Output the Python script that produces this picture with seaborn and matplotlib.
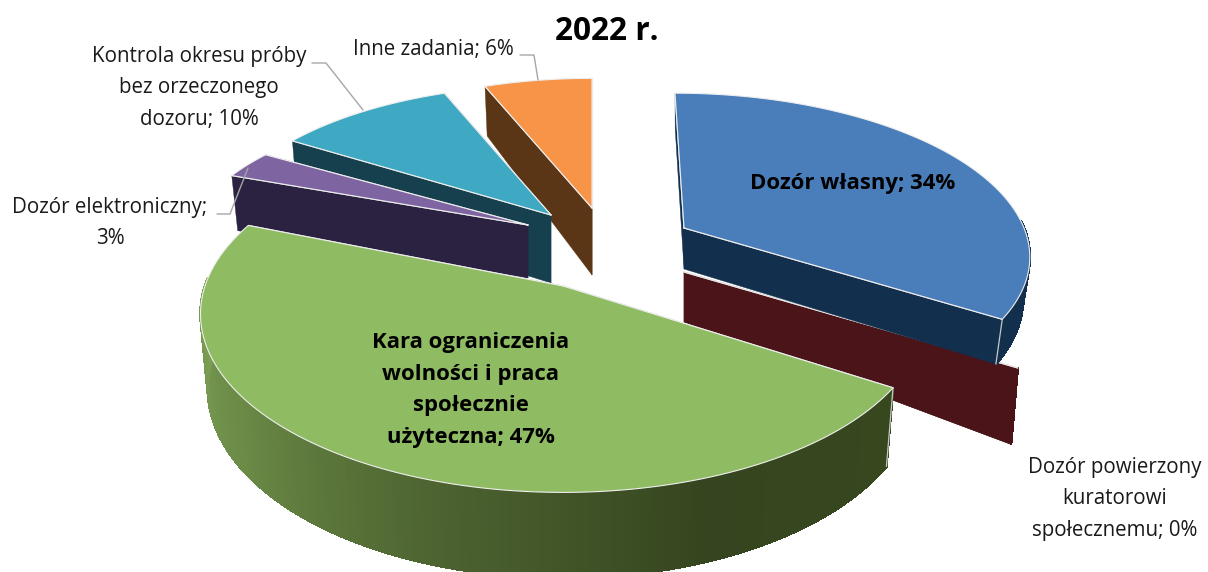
import numpy as np
import seaborn as sns
import matplotlib.pyplot as plt

title = "2022 r."
categories = ["Dozór własny", "Dozór powierzony\nkuratorowi\nspołecznemu", "Kara ograniczenia\nwolności i praca\nspołecznie\nużyteczna",
              "Dozór elektroniczny;\n", "Kontrola okresu próby\nbez orzeczonego\ndozoru", "Inne zadania"]
values = [34, 0, 47, 3, 10, 6]

# look of each slice, same order as values
top_colors = ["#4a7ebb", "#4a1418", "#8fbb63", "#7f64a2", "#3fa8c3", "#f79448"]
wall_colors = ["#12304e", "#4a1418", "#3a4a22", "#2a2240", "#16404e", "#5a3516"]
centers = [(684, 228), (684, 272), (563, 286), (528, 225), (551, 215), (592, 208)]
radii_x = [340, 362, 358, 337, 332, 333]
radii_y = [156, 164, 174, 142, 150, 150]
depths = [41, 50, 72, 53, 68, 67]
rim_gain = [1.0, 1.4, 1.0, 1.1, 1.0, 0.85]
lean = [-9, 0, 0, 0, 0, 0]

PERSP = 0.157
BOTTOM_SHRINK = 0.98

sns.set_theme(style="white")
plt.rcParams['font.family'] = ['Open Sans', 'DejaVu Sans']

fig = plt.figure(figsize=(12.08, 5.72), dpi=100)
ax = fig.add_axes([0, 0, 1, 1])
ax.set_xlim(0, 1208)
ax.set_ylim(572, 0)
ax.axis("off")


def project(i, theta, r, bottom=False):
    s = 1 / (1 + PERSP * r * np.cos(theta))
    dx = radii_x[i] * r * np.sin(theta) * s + lean[i] * r * np.cos(theta)
    y = centers[i][1] - radii_y[i] * r * np.cos(theta) * s
    if bottom:
        dx = dx * BOTTOM_SHRINK
        y = y + depths[i] * s * (1 + (rim_gain[i] - 1) * r)
    return centers[i][0] + dx, y


def draw_slice(i, start, end):
    # radial walls first
    for theta in (end, start):
        pts = [project(i, theta, 0), project(i, theta, 1), project(i, theta, 1, True), project(i, theta, 0, True)]
        ax.fill(*zip(*pts), color=wall_colors[i], lw=0.3, zorder=i_order[i])
        ax.plot(*zip(*pts[:2]), color="#e6e6e6", lw=0.9, zorder=i_order[i] + 0.2)
        # light corner where the flat wall meets the round one
        if end > start and np.cos(theta) < 0:
            ax.plot(*zip(*pts[1:3]), color="#c8c8c8", lw=0.9, zorder=i_order[i] + 0.2)

    # outer wall, only the part facing the viewer
    thetas = np.linspace(start, end, 120)
    front = np.linspace(start, end, 500)
    front = front[np.cos(front) < 0.05]
    if len(front) > 1:
        if i == 2:
            shades = sns.blend_palette(["#37481f", "#35451f", "#4d6330", "#6a8a46", "#7da055"], len(front))
        else:
            shades = [wall_colors[i]] * len(front)
        for a, b, c in zip(front[:-1], front[1:], shades):
            pts = [project(i, a, 1), project(i, b, 1), project(i, b, 1, True), project(i, a, 1, True)]
            ax.fill(*zip(*pts), color=c, lw=1.2, antialiased=False, zorder=i_order[i] + 0.1)

    # top face
    if end > start:
        rim = [project(i, t, 1) for t in thetas]
        pts = [project(i, start, 0)] + rim
        ax.fill(*zip(*pts), facecolor=top_colors[i], edgecolor="none", zorder=i_order[i] + 0.3)
        ax.plot(*zip(*pts, pts[0]), color="#eeeeee", lw=0.8, zorder=i_order[i] + 0.4)


# painter's order, back slices first
i_order = {5: 1, 4: 2, 3: 3, 1: 4, 0: 5, 2: 6}
edges = np.cumsum([0] + values) / sum(values) * 2 * np.pi
for i in range(len(values)):
    draw_slice(i, edges[i], edges[i + 1])

# leader lines
leader_color = "#a6a6a6"
ax.plot([312, 326, 363], [63, 63, 110], color=leader_color, lw=1, zorder=10)
ax.plot([520, 534, 538], [55, 55, 80], color=leader_color, lw=1, zorder=10)
ax.plot([217, 230, 248], [214, 214, 168], color=leader_color, lw=1, zorder=10)

ax.text(607, 32, title, fontsize=22.8, fontweight="bold", ha="center", va="center", color="black")

text_color = "#1a1a1a"
plain = dict(fontsize=14.8, ha="center", va="center", color=text_color, linespacing=1.64, zorder=11)
bold = dict(fontsize=15.9, fontweight="bold", ha="center", va="center", color="black", linespacing=1.66, zorder=11)
ax.text(853, 184, f"{categories[0]}; {values[0]}%", **bold)
ax.text(1115, 499, f"{categories[1]}; {values[1]}%", **plain)
ax.text(471, 390, f"{categories[2]}; {values[2]}%", **bold)
ax.text(110, 223, f"{categories[3]}{values[3]}%", **plain)
ax.text(199, 88, f"{categories[4]}; {values[4]}%", **plain)
ax.text(433, 49, f"{categories[5]}; {values[5]}%", **plain)

fig.savefig("out.png", dpi=100)
